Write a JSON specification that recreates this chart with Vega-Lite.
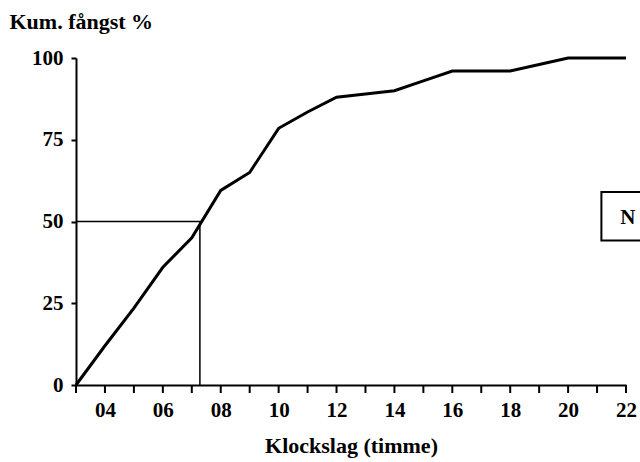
{
  "$schema": "https://vega.github.io/schema/vega-lite/v6.json",
  "autosize": {"type": "none"},
  "width": 550,
  "height": 327,
  "padding": {"left": 76, "top": 58, "right": 14, "bottom": 77},
  "background": "white",
  "config": {
    "view": {"stroke": null},
    "font": "Liberation Serif",
    "axis": {"grid": false, "domainColor": "black", "tickColor": "black", "labelColor": "black", "titleColor": "black", "labelFont": "Liberation Serif", "titleFont": "Liberation Serif", "labelFontWeight": "bold", "titleFontWeight": "bold", "labelFontSize": 21, "titleFontSize": 22, "domainWidth": 2, "tickWidth": 2}
  },
  "datasets": {
    "curve": [
      {"timme": 3, "pct": 0},
      {"timme": 4, "pct": 12},
      {"timme": 5, "pct": 23.5},
      {"timme": 6, "pct": 36},
      {"timme": 7, "pct": 45},
      {"timme": 8, "pct": 59.5},
      {"timme": 9, "pct": 65},
      {"timme": 10, "pct": 78.5},
      {"timme": 11, "pct": 83.5},
      {"timme": 12, "pct": 88},
      {"timme": 13, "pct": 89},
      {"timme": 14, "pct": 90},
      {"timme": 15, "pct": 93},
      {"timme": 16, "pct": 96},
      {"timme": 17, "pct": 96},
      {"timme": 18, "pct": 96},
      {"timme": 19, "pct": 98},
      {"timme": 20, "pct": 100},
      {"timme": 21, "pct": 100},
      {"timme": 22, "pct": 100}
    ],
    "median": [
      {"timme": 3, "pct": 50, "ord": 1},
      {"timme": 7.28, "pct": 50, "ord": 2},
      {"timme": 7.28, "pct": 0, "ord": 3}
    ],
    "box": [
      {"x1": 21.15, "x2": 23.5, "y1": 44.2, "y2": 59, "label": "N", "tx": 21.8, "ty": 51}
    ]
  },
  "layer": [
    {
      "data": {"name": "curve"},
      "mark": {"type": "tick", "orient": "vertical", "color": "black", "size": 8, "thickness": 2, "yOffset": 4, "opacity": 1},
      "encoding": {
        "x": {"field": "timme", "type": "quantitative"},
        "y": {"datum": 0, "type": "quantitative"}
      }
    },
    {
      "data": {"name": "curve"},
      "mark": {"type": "line", "color": "black", "strokeWidth": 3, "strokeJoin": "miter"},
      "encoding": {
        "x": {
          "field": "timme", "type": "quantitative",
          "scale": {"domain": [3, 22], "nice": false, "zero": false},
          "axis": {
            "title": "Klockslag (timme)",
            "values": [4, 6, 8, 10, 12, 14, 16, 18, 20, 22],
            "format": "02d",
            "ticks": false,
            "labelPadding": 14,
            "labelFlush": false,
            "labelOverlap": false,
            "titleBaseline": "alphabetic",
            "titleY": 67
          }
        },
        "y": {
          "field": "pct", "type": "quantitative",
          "scale": {"domain": [0, 100], "nice": false},
          "axis": {
            "title": "Kum. fångst %",
            "values": [0, 25, 50, 75, 100],
            "tickSize": 5,
            "labelPadding": 8,
            "titleAngle": 0,
            "titleAlign": "left",
            "titleBaseline": "alphabetic",
            "titleX": -67,
            "titleY": -30
          }
        }
      }
    },
    {
      "data": {"name": "median"},
      "mark": {"type": "line", "color": "black", "strokeWidth": 1.5},
      "encoding": {
        "x": {"field": "timme", "type": "quantitative"},
        "y": {"field": "pct", "type": "quantitative"},
        "order": {"field": "ord"}
      }
    },
    {
      "data": {"name": "box"},
      "mark": {"type": "rect", "fill": "white", "stroke": "black", "strokeWidth": 2},
      "encoding": {
        "x": {"field": "x1", "type": "quantitative"},
        "x2": {"field": "x2"},
        "y": {"field": "y1", "type": "quantitative"},
        "y2": {"field": "y2"}
      }
    },
    {
      "data": {"name": "box"},
      "mark": {"type": "text", "align": "left", "baseline": "middle", "font": "Liberation Serif", "fontWeight": "bold", "fontSize": 21, "color": "black"},
      "encoding": {
        "x": {"field": "tx", "type": "quantitative"},
        "y": {"field": "ty", "type": "quantitative"},
        "text": {"field": "label"}
      }
    }
  ]
}
